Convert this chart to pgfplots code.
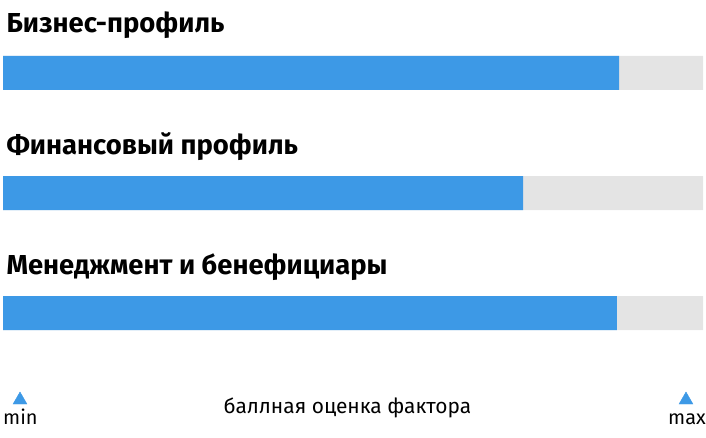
\documentclass[border=0pt]{standalone}
\usepackage{fontspec}
\setmainfont{Fira Sans}
\usepackage{pgfplots}
\pgfplotsset{compat=1.18}

\definecolor{barblue}{RGB}{61,153,230}
\definecolor{bargray}{RGB}{228,228,228}

% scores on a 0..100 scale
\pgfplotstableread{
y   score
73  88.0
193 74.3
313 87.7
}\scores

\begin{document}
\begin{tikzpicture}
\begin{axis}[
  at={(0,0)}, anchor=south west,
  scale only axis,
  width=706bp, height=438bp,
  xmin=-0.4286, xmax=100.4286,
  ymin=0, ymax=438,
  y dir=reverse,
  hide axis,
  clip=false,
  bar width=34,
  bar shift=0pt,
]
  % gray track
  \addplot[xbar, draw=none, fill=bargray] coordinates {(100,73) (100,193) (100,313)};
  % blue score
  \addplot[xbar, draw=none, fill=barblue] table[x=score, y=y] {\scores};
  % min / max markers
  \addplot[only marks, mark=triangle*, mark size=8bp, color=barblue]
    coordinates {(2.43,400) (97.57,400)};

  \node[anchor=base west, font=\bfseries\fontsize{27.5}{27.5}\selectfont] at (axis cs:0.0,33) {Бизнес-профиль};
  \node[anchor=base west, font=\bfseries\fontsize{27.5}{27.5}\selectfont] at (axis cs:0.0,154) {Финансовый профиль};
  \node[anchor=base west, font=\bfseries\fontsize{27.5}{27.5}\selectfont] at (axis cs:0.0,274) {Менеджмент и бенефициары};

  \node[anchor=base, font=\fontsize{21}{21}\selectfont] at (axis cs:49.2,413) {баллная оценка фактора};
  \node[anchor=base west, inner sep=0pt, font=\fontsize{20}{20}\selectfont] at (axis cs:0,424) {min};
  \node[anchor=base east, inner sep=0pt, font=\fontsize{20}{20}\selectfont] at (axis cs:100.4286,424) {max};
\end{axis}
\pgfresetboundingbox
\useasboundingbox (0,0) rectangle (706bp,438bp);
\end{tikzpicture}
\end{document}
